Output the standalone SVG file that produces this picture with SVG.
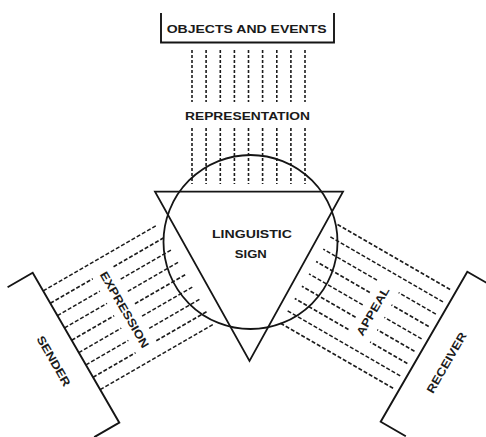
<svg xmlns="http://www.w3.org/2000/svg" width="486" height="437" viewBox="0 0 486 437">
  <style>
    .frame { fill: none; stroke: #151515; stroke-width: 1.9; stroke-linejoin: miter; }
    .sign { fill: none; stroke: #151515; stroke-width: 1.8; }
    .dv { stroke: #1c1c1c; stroke-width: 1.6; stroke-dasharray: 3 2; }
    .dd { stroke: #1c1c1c; stroke-width: 1.6; stroke-dasharray: 4 2; }
    .lbl { font-family: "Liberation Sans", Arial, sans-serif; font-weight: bold; font-size: 11.5px; fill: #1a1a1a; text-anchor: middle; }
  </style>
  <rect width="486" height="437" fill="#ffffff"/>

  <!-- dashed bundles linking the sign with its three relations -->
  <g id="connectors">
    <!-- representation: vertical bundle under the objects bracket -->
    <g id="representation">
      <line class="dv" x1="192" y1="50" x2="192" y2="102"/>
      <line class="dv" x1="192" y1="128" x2="192" y2="184"/>
      <line class="dv" x1="206.1" y1="50" x2="206.1" y2="102"/>
      <line class="dv" x1="206.1" y1="128" x2="206.1" y2="184"/>
      <line class="dv" x1="220.3" y1="50" x2="220.3" y2="102"/>
      <line class="dv" x1="220.3" y1="128" x2="220.3" y2="184"/>
      <line class="dv" x1="234.4" y1="50" x2="234.4" y2="102"/>
      <line class="dv" x1="234.4" y1="128" x2="234.4" y2="184"/>
      <line class="dv" x1="248.5" y1="50" x2="248.5" y2="102"/>
      <line class="dv" x1="248.5" y1="128" x2="248.5" y2="184"/>
      <line class="dv" x1="262.6" y1="50" x2="262.6" y2="102"/>
      <line class="dv" x1="262.6" y1="128" x2="262.6" y2="184"/>
      <line class="dv" x1="276.8" y1="50" x2="276.8" y2="102"/>
      <line class="dv" x1="276.8" y1="128" x2="276.8" y2="184"/>
      <line class="dv" x1="290.9" y1="50" x2="290.9" y2="102"/>
      <line class="dv" x1="290.9" y1="128" x2="290.9" y2="184"/>
      <line class="dv" x1="305" y1="50" x2="305" y2="102"/>
      <line class="dv" x1="305" y1="128" x2="305" y2="184"/>
      <text class="lbl" x="247.5" y="120" textLength="125" lengthAdjust="spacingAndGlyphs">REPRESENTATION</text>
    </g>

    <!-- expression: bundle from the sender bracket (local frame along the bracket) -->
    <g id="expression" transform="translate(32.7 272.7) rotate(60)">
      <line class="dd" x1="21" y1="0" x2="21" y2="-131"/>
      <line class="dd" x1="35.25" y1="0" x2="35.25" y2="-49"/>
      <line class="dd" x1="35.25" y1="-73" x2="35.25" y2="-131"/>
      <line class="dd" x1="49.5" y1="0" x2="49.5" y2="-49"/>
      <line class="dd" x1="49.5" y1="-73" x2="49.5" y2="-131"/>
      <line class="dd" x1="63.75" y1="0" x2="63.75" y2="-49"/>
      <line class="dd" x1="63.75" y1="-73" x2="63.75" y2="-131"/>
      <line class="dd" x1="78" y1="0" x2="78" y2="-49"/>
      <line class="dd" x1="78" y1="-73" x2="78" y2="-131"/>
      <line class="dd" x1="92.25" y1="0" x2="92.25" y2="-49"/>
      <line class="dd" x1="92.25" y1="-73" x2="92.25" y2="-131"/>
      <line class="dd" x1="106.5" y1="0" x2="106.5" y2="-49"/>
      <line class="dd" x1="106.5" y1="-73" x2="106.5" y2="-131"/>
      <line class="dd" x1="120.75" y1="0" x2="120.75" y2="-49"/>
      <line class="dd" x1="120.75" y1="-73" x2="120.75" y2="-131"/>
      <line class="dd" x1="135" y1="0" x2="135" y2="-131"/>
      <text class="lbl" x="78" y="-57" textLength="86" lengthAdjust="spacingAndGlyphs">EXPRESSION</text>
    </g>

    <!-- appeal: bundle toward the receiver bracket -->
    <g id="appeal" transform="translate(380.7 421.7) rotate(-60)">
      <line class="dd" x1="35.2" y1="-6" x2="35.2" y2="-136"/>
      <line class="dd" x1="49.45" y1="-6" x2="49.45" y2="-136"/>
      <line class="dd" x1="63.7" y1="-6" x2="63.7" y2="-49"/>
      <line class="dd" x1="63.7" y1="-74" x2="63.7" y2="-136"/>
      <line class="dd" x1="77.95" y1="-6" x2="77.95" y2="-49"/>
      <line class="dd" x1="77.95" y1="-74" x2="77.95" y2="-136"/>
      <line class="dd" x1="92.2" y1="-6" x2="92.2" y2="-49"/>
      <line class="dd" x1="92.2" y1="-74" x2="92.2" y2="-136"/>
      <line class="dd" x1="106.45" y1="-6" x2="106.45" y2="-49"/>
      <line class="dd" x1="106.45" y1="-74" x2="106.45" y2="-136"/>
      <line class="dd" x1="120.7" y1="-6" x2="120.7" y2="-49"/>
      <line class="dd" x1="120.7" y1="-74" x2="120.7" y2="-136"/>
      <line class="dd" x1="134.95" y1="-6" x2="134.95" y2="-136"/>
      <line class="dd" x1="149.2" y1="-6" x2="149.2" y2="-136"/>
      <text class="lbl" x="91.7" y="-58" textLength="54" lengthAdjust="spacingAndGlyphs">APPEAL</text>
    </g>
  </g>

  <!-- objects and events -->
  <g id="objects">
    <polyline class="frame" points="161,13 161,42.5 334,42.5 334,13"/>
    <text class="lbl" x="246.7" y="32.7" textLength="160" lengthAdjust="spacingAndGlyphs">OBJECTS AND EVENTS</text>
  </g>

  <!-- sender -->
  <g id="sender" transform="translate(32.7 272.7) rotate(60)">
    <polyline class="frame" points="0,29 0,0 173.2,0 173.2,29"/>
    <text class="lbl" x="87" y="30" textLength="56" lengthAdjust="spacingAndGlyphs">SENDER</text>
  </g>

  <!-- receiver -->
  <g id="receiver" transform="translate(380.7 421.7) rotate(-60)">
    <polyline class="frame" points="0,29 0,0 173.2,0 173.2,29"/>
    <text class="lbl" x="84" y="31.5" textLength="68" lengthAdjust="spacingAndGlyphs">RECEIVER</text>
  </g>

  <!-- linguistic sign: circle and triangle -->
  <g id="sign">
    <circle class="sign" cx="250.5" cy="242" r="87"/>
    <polygon class="sign" points="155,191.7 343,191.7 249.5,361"/>
    <text class="lbl" x="252" y="238" textLength="80" lengthAdjust="spacingAndGlyphs">LINGUISTIC</text>
    <text class="lbl" x="250.8" y="258" textLength="32" lengthAdjust="spacingAndGlyphs">SIGN</text>
  </g>
</svg>
